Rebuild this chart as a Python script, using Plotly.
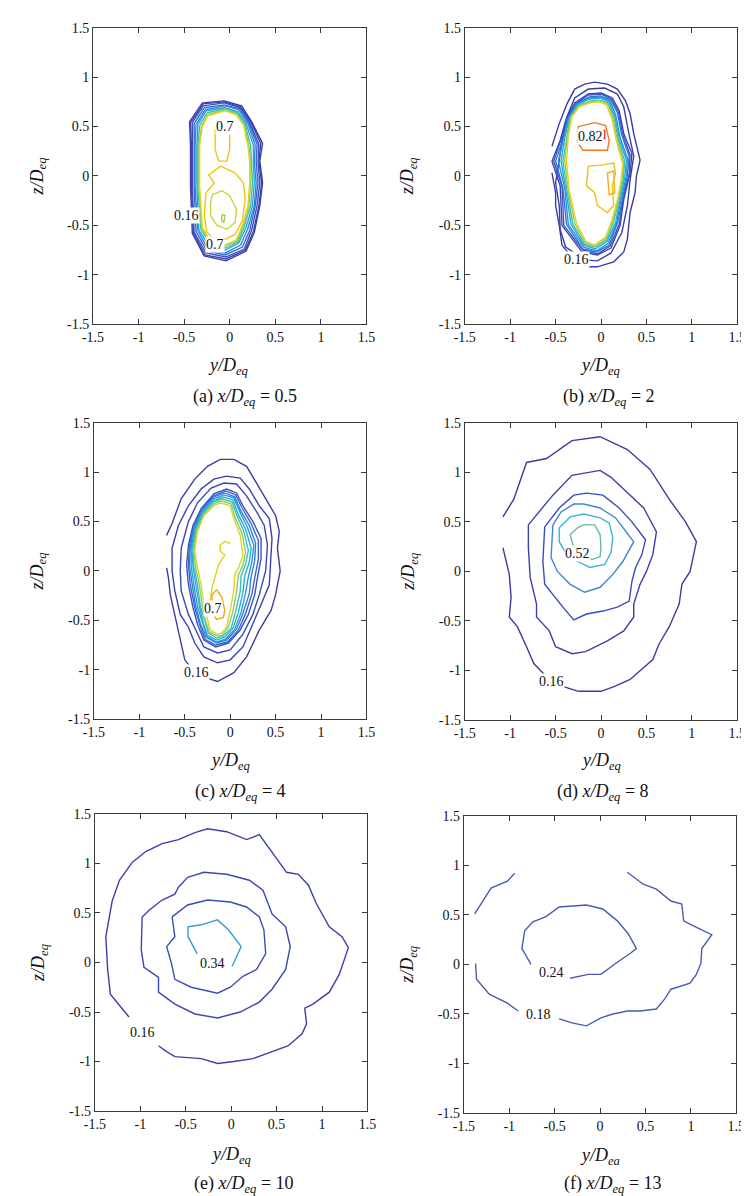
import plotly.graph_objects as go

# ---------------- data (y/Deq, z/Deq) ----------------
TICK_VALS = [-1.5, -1, -0.5, 0, 0.5, 1, 1.5]
TICK_TEXT = ["-1.5", "-1", "-0.5", "0", "0.5", "1", "1.5"]

# Panel (a) x/Deq = 0.5
A_LEVELS = [0.16, 0.22, 0.28, 0.34, 0.40, 0.46, 0.52, 0.58, 0.64, 0.70, 0.70, 0.64, 0.76]
A01 = [[-0.30,0.74],[-0.06,0.76],[0.13,0.71],[0.24,0.55],[0.36,0.33],[0.33,0.15],[0.36,-0.07],[0.33,-0.30],[0.27,-0.57],[0.18,-0.76],[-0.04,-0.86],[-0.28,-0.81],[-0.41,-0.58],[-0.43,-0.10],[-0.43,0.30],[-0.44,0.55],[-0.30,0.74]]
A02 = [[-0.29,0.73],[-0.06,0.75],[0.12,0.70],[0.23,0.55],[0.34,0.33],[0.32,0.15],[0.35,-0.07],[0.32,-0.30],[0.26,-0.56],[0.17,-0.75],[-0.04,-0.84],[-0.27,-0.80],[-0.40,-0.57],[-0.42,-0.10],[-0.42,0.30],[-0.43,0.54],[-0.29,0.73]]
A03 = [[-0.29,0.71],[-0.06,0.74],[0.12,0.69],[0.22,0.54],[0.32,0.32],[0.31,0.15],[0.33,-0.07],[0.30,-0.30],[0.24,-0.55],[0.16,-0.74],[-0.04,-0.82],[-0.26,-0.78],[-0.39,-0.57],[-0.41,-0.10],[-0.41,0.30],[-0.41,0.54],[-0.29,0.71]]
A04 = [[-0.28,0.69],[-0.06,0.72],[0.11,0.68],[0.21,0.54],[0.30,0.32],[0.29,0.15],[0.31,-0.07],[0.28,-0.30],[0.22,-0.55],[0.14,-0.72],[-0.05,-0.80],[-0.25,-0.76],[-0.37,-0.56],[-0.39,-0.10],[-0.39,0.30],[-0.39,0.53],[-0.28,0.69]]
A05 = [[-0.27,0.67],[-0.05,0.71],[0.10,0.67],[0.20,0.53],[0.28,0.31],[0.27,0.15],[0.29,-0.07],[0.27,-0.30],[0.20,-0.53],[0.12,-0.70],[-0.05,-0.78],[-0.24,-0.74],[-0.35,-0.55],[-0.38,-0.10],[-0.38,0.30],[-0.37,0.52],[-0.27,0.67]]
A06 = [[-0.26,0.66],[-0.05,0.69],[0.09,0.65],[0.18,0.53],[0.26,0.31],[0.26,0.14],[0.27,-0.07],[0.25,-0.30],[0.18,-0.52],[0.10,-0.68],[-0.05,-0.75],[-0.22,-0.72],[-0.34,-0.54],[-0.36,-0.10],[-0.36,0.30],[-0.35,0.52],[-0.26,0.66]]
A07 = [[-0.25,0.64],[-0.05,0.68],[0.08,0.64],[0.17,0.52],[0.23,0.30],[0.24,0.14],[0.25,-0.07],[0.23,-0.30],[0.16,-0.51],[0.09,-0.67],[-0.05,-0.73],[-0.21,-0.70],[-0.32,-0.53],[-0.35,-0.10],[-0.35,0.30],[-0.33,0.51],[-0.25,0.64]]
A08 = [[-0.245,0.62],[-0.05,0.67],[0.075,0.63],[0.16,0.52],[0.21,0.30],[0.23,0.14],[0.23,-0.07],[0.21,-0.30],[0.15,-0.50],[0.08,-0.66],[-0.055,-0.71],[-0.205,-0.69],[-0.31,-0.52],[-0.34,-0.10],[-0.34,0.30],[-0.31,0.50],[-0.245,0.62]]
A09 = [[-0.24,0.61],[-0.05,0.66],[0.07,0.62],[0.15,0.52],[0.20,0.30],[0.22,0.14],[0.22,-0.07],[0.20,-0.30],[0.14,-0.50],[0.07,-0.65],[-0.06,-0.70],[-0.20,-0.68],[-0.30,-0.52],[-0.33,-0.10],[-0.33,0.30],[-0.30,0.50],[-0.24,0.61]]
A10 = [[-0.16,0.47],[-0.16,0.27],[-0.12,0.15],[-0.03,0.15],[0.00,0.28],[0.00,0.44]]
A11 = [[-0.10,0.10],[-0.23,0.01],[-0.17,-0.07],[-0.26,-0.17],[-0.28,-0.40],[-0.25,-0.57],[-0.17,-0.64],[-0.04,-0.64],[0.06,-0.59],[0.14,-0.45],[0.17,-0.24],[0.15,-0.07],[0.06,0.03],[-0.10,0.10]]
A12 = [[-0.19,-0.19],[-0.085,-0.15],[0.0,-0.20],[0.075,-0.34],[0.06,-0.47],[-0.03,-0.54],[-0.14,-0.50],[-0.21,-0.40],[-0.21,-0.27],[-0.19,-0.19]]
A13 = [[-0.085,-0.39],[-0.05,-0.40],[-0.065,-0.47],[-0.09,-0.45],[-0.085,-0.39]]
A_CONTOURS = [A01, A02, A03, A04, A05, A06, A07, A08, A09, A10, A11, A12, A13]
A_LABEL_TEXT = ["0.7", "0.16", "0.7"]
A_LABEL_POS = [[-0.05, 0.50], [-0.47, -0.40], [-0.16, -0.69]]

# Panel (b) x/Deq = 2
B_LEVELS = [0.16, 0.22, 0.28, 0.34, 0.40, 0.46, 0.52, 0.58, 0.64, 0.70, 0.76, 0.82, 0.70, 0.70]
B01 = [[-0.54,0.30],[-0.46,0.53],[-0.375,0.73],[-0.29,0.88],[-0.18,0.93],[-0.07,0.95],[0.07,0.93],[0.18,0.88],[0.27,0.76],[0.32,0.63],[0.36,0.43],[0.43,0.16],[0.39,0.0],[0.375,-0.17],[0.32,-0.37],[0.29,-0.64],[0.25,-0.77],[0.14,-0.87],[-0.04,-0.92],[-0.125,-0.92],[-0.27,-0.88],[-0.43,-0.70],[-0.46,-0.50],[-0.50,-0.30],[-0.50,-0.17],[-0.54,0.03]]
B02 = [[-0.46,0.16],[-0.43,0.36],[-0.375,0.60],[-0.29,0.79],[-0.14,0.88],[0.04,0.89],[0.18,0.83],[0.25,0.70],[0.30,0.46],[0.36,0.20],[0.32,-0.04],[0.29,-0.30],[0.23,-0.57],[0.11,-0.78],[-0.04,-0.86],[-0.18,-0.85],[-0.39,-0.72],[-0.45,-0.54],[-0.46,-0.30],[-0.50,-0.07],[-0.46,0.16]]
B03 = [[-0.39,0.56],[-0.29,0.74],[-0.14,0.83],[0.00,0.84],[0.125,0.79],[0.20,0.66],[0.25,0.43],[0.34,0.23],[0.32,0.03],[0.25,-0.24],[0.21,-0.50],[0.11,-0.73],[-0.04,-0.80],[-0.21,-0.77],[-0.43,-0.50],[-0.45,-0.10],[-0.54,0.15],[-0.45,0.36],[-0.39,0.56]]
B04 = [[-0.38,0.57],[-0.28,0.73],[-0.14,0.82],[0.00,0.83],[0.115,0.78],[0.19,0.65],[0.24,0.42],[0.32,0.21],[0.31,0.02],[0.24,-0.24],[0.20,-0.49],[0.10,-0.71],[-0.04,-0.79],[-0.20,-0.75],[-0.41,-0.50],[-0.43,-0.11],[-0.52,0.15],[-0.44,0.37],[-0.38,0.57]]
B05 = [[-0.37,0.57],[-0.27,0.73],[-0.13,0.80],[-0.01,0.81],[0.105,0.77],[0.18,0.64],[0.23,0.41],[0.31,0.20],[0.29,0.01],[0.23,-0.24],[0.18,-0.48],[0.09,-0.70],[-0.05,-0.77],[-0.20,-0.74],[-0.38,-0.49],[-0.42,-0.12],[-0.50,0.15],[-0.42,0.37],[-0.37,0.57]]
B06 = [[-0.36,0.58],[-0.27,0.72],[-0.13,0.79],[-0.01,0.80],[0.095,0.76],[0.16,0.62],[0.21,0.39],[0.29,0.18],[0.28,0.0],[0.22,-0.24],[0.17,-0.48],[0.08,-0.68],[-0.05,-0.76],[-0.19,-0.72],[-0.36,-0.49],[-0.40,-0.12],[-0.47,0.15],[-0.41,0.38],[-0.36,0.58]]
B07 = [[-0.35,0.58],[-0.26,0.72],[-0.13,0.78],[-0.01,0.79],[0.085,0.75],[0.15,0.61],[0.20,0.38],[0.28,0.16],[0.26,-0.02],[0.21,-0.24],[0.16,-0.47],[0.07,-0.66],[-0.06,-0.74],[-0.19,-0.70],[-0.33,-0.49],[-0.39,-0.13],[-0.44,0.15],[-0.40,0.38],[-0.35,0.58]]
B08 = [[-0.34,0.59],[-0.25,0.71],[-0.12,0.76],[-0.02,0.77],[0.075,0.74],[0.14,0.60],[0.19,0.37],[0.26,0.15],[0.245,-0.03],[0.20,-0.24],[0.14,-0.46],[0.06,-0.65],[-0.06,-0.72],[-0.18,-0.69],[-0.31,-0.49],[-0.375,-0.14],[-0.42,0.15],[-0.38,0.39],[-0.34,0.59]]
B09 = [[-0.33,0.60],[-0.245,0.705],[-0.12,0.75],[-0.02,0.76],[0.07,0.73],[0.13,0.59],[0.18,0.36],[0.25,0.13],[0.23,-0.04],[0.19,-0.24],[0.13,-0.455],[0.055,-0.635],[-0.065,-0.71],[-0.175,-0.675],[-0.29,-0.48],[-0.36,-0.145],[-0.40,0.15],[-0.37,0.395],[-0.33,0.60]]
B10 = [[-0.32,0.60],[-0.24,0.70],[-0.12,0.74],[-0.02,0.75],[0.06,0.72],[0.12,0.58],[0.17,0.35],[0.24,0.12],[0.22,-0.05],[0.18,-0.24],[0.12,-0.45],[0.05,-0.62],[-0.07,-0.70],[-0.17,-0.66],[-0.27,-0.48],[-0.35,-0.15],[-0.38,0.15],[-0.36,0.40],[-0.32,0.60]]
B11 = [[-0.25,0.50],[-0.25,0.33],[-0.20,0.26],[0.07,0.26],[0.09,0.36],[0.05,0.51],[-0.07,0.54],[-0.21,0.51],[-0.25,0.50]]
B12 = [[-0.21,0.45],[-0.14,0.46],[0.04,0.46],[0.04,0.38],[-0.18,0.38],[-0.21,0.45]]
B13 = [[-0.14,0.10],[-0.16,-0.10],[-0.07,-0.17],[-0.04,-0.30],[0.07,-0.37],[0.14,-0.30],[0.125,-0.10],[0.16,0.03],[0.14,0.13],[0.0,0.11],[-0.14,0.10]]
B14 = [[0.07,0.03],[0.14,0.05],[0.15,-0.17],[0.09,-0.19],[0.07,0.03]]
B_CONTOURS = [B01, B02, B03, B04, B05, B06, B07, B08, B09, B10, B11, B12, B13, B14]
B_LABEL_TEXT = ["0.82", "0.16"]
B_LABEL_POS = [[-0.12, 0.40], [-0.27, -0.85]]

# Panel (c) x/Deq = 4
C_LEVELS = [0.16, 0.22, 0.28, 0.34, 0.40, 0.46, 0.52, 0.58, 0.64, 0.70, 0.76, 0.82, 0.82, 0.70]
C01 = [[-0.70,0.36],[-0.64,0.48],[-0.54,0.73],[-0.39,0.93],[-0.25,1.06],[-0.11,1.13],[0.04,1.13],[0.18,1.06],[0.29,0.89],[0.39,0.73],[0.50,0.56],[0.54,0.40],[0.52,0.23],[0.55,0.0],[0.50,-0.24],[0.45,-0.40],[0.32,-0.60],[0.18,-0.87],[0.04,-1.03],[-0.14,-1.12],[-0.25,-1.09],[-0.375,-1.05],[-0.50,-0.90],[-0.54,-0.73],[-0.57,-0.60],[-0.625,-0.40],[-0.66,-0.24],[-0.68,-0.07],[-0.70,0.03]]
C02 = [[-0.64,0.23],[-0.57,0.46],[-0.46,0.66],[-0.32,0.83],[-0.18,0.93],[-0.04,0.96],[0.11,0.94],[0.21,0.83],[0.32,0.66],[0.43,0.53],[0.46,0.33],[0.45,0.13],[0.43,-0.14],[0.34,-0.34],[0.25,-0.54],[0.14,-0.77],[0.0,-0.90],[-0.14,-0.93],[-0.29,-0.87],[-0.39,-0.73],[-0.46,-0.57],[-0.55,-0.44],[-0.61,-0.20],[-0.64,0.0],[-0.64,0.23]]
C03 = [[-0.54,0.23],[-0.46,0.50],[-0.36,0.69],[-0.21,0.84],[-0.07,0.89],[0.07,0.88],[0.18,0.76],[0.29,0.60],[0.375,0.46],[0.41,0.26],[0.39,0.0],[0.32,-0.24],[0.25,-0.44],[0.14,-0.64],[0.0,-0.80],[-0.14,-0.83],[-0.29,-0.77],[-0.375,-0.60],[-0.46,-0.44],[-0.54,-0.20],[-0.55,0.0],[-0.54,0.23]]
C04 = [[-0.46,0.26],[-0.41,0.46],[-0.32,0.63],[-0.18,0.78],[-0.04,0.83],[0.07,0.79],[0.14,0.66],[0.25,0.50],[0.34,0.33],[0.34,0.13],[0.30,-0.07],[0.27,-0.24],[0.20,-0.44],[0.11,-0.60],[-0.02,-0.73],[-0.16,-0.77],[-0.29,-0.70],[-0.36,-0.54],[-0.41,-0.37],[-0.46,-0.14],[-0.48,0.06],[-0.46,0.26]]
C05 = [[-0.45,0.25],[-0.40,0.45],[-0.32,0.62],[-0.18,0.76],[-0.05,0.81],[0.06,0.77],[0.13,0.64],[0.23,0.48],[0.31,0.31],[0.31,0.12],[0.27,-0.07],[0.24,-0.23],[0.17,-0.43],[0.09,-0.60],[-0.03,-0.72],[-0.16,-0.75],[-0.28,-0.69],[-0.34,-0.53],[-0.39,-0.37],[-0.44,-0.14],[-0.46,0.06],[-0.45,0.25]]
C06 = [[-0.44,0.24],[-0.40,0.44],[-0.31,0.61],[-0.18,0.75],[-0.06,0.79],[0.05,0.75],[0.11,0.62],[0.21,0.46],[0.28,0.28],[0.27,0.11],[0.23,-0.06],[0.21,-0.23],[0.14,-0.43],[0.07,-0.59],[-0.04,-0.70],[-0.15,-0.73],[-0.27,-0.67],[-0.33,-0.53],[-0.38,-0.36],[-0.42,-0.14],[-0.45,0.05],[-0.44,0.24]]
C07 = [[-0.43,0.23],[-0.39,0.43],[-0.31,0.60],[-0.18,0.73],[-0.07,0.77],[0.04,0.74],[0.10,0.61],[0.19,0.44],[0.26,0.26],[0.24,0.10],[0.20,-0.06],[0.17,-0.22],[0.12,-0.42],[0.05,-0.59],[-0.05,-0.69],[-0.15,-0.72],[-0.26,-0.66],[-0.31,-0.52],[-0.36,-0.36],[-0.40,-0.14],[-0.43,0.05],[-0.43,0.23]]
C08 = [[-0.42,0.23],[-0.38,0.43],[-0.30,0.59],[-0.18,0.71],[-0.08,0.75],[0.03,0.72],[0.08,0.59],[0.17,0.42],[0.23,0.23],[0.21,0.09],[0.16,-0.05],[0.14,-0.22],[0.09,-0.42],[0.03,-0.58],[-0.06,-0.67],[-0.15,-0.70],[-0.25,-0.65],[-0.30,-0.52],[-0.34,-0.35],[-0.38,-0.14],[-0.41,0.04],[-0.42,0.23]]
C09 = [[-0.41,0.22],[-0.37,0.42],[-0.30,0.58],[-0.18,0.70],[-0.09,0.73],[0.02,0.70],[0.07,0.57],[0.15,0.40],[0.20,0.21],[0.17,0.07],[0.12,-0.05],[0.11,-0.21],[0.06,-0.41],[0.01,-0.58],[-0.08,-0.66],[-0.15,-0.68],[-0.24,-0.63],[-0.28,-0.51],[-0.33,-0.35],[-0.36,-0.14],[-0.40,0.04],[-0.41,0.22]]
C10 = [[-0.40,0.21],[-0.37,0.41],[-0.29,0.57],[-0.18,0.68],[-0.10,0.71],[0.01,0.68],[0.05,0.55],[0.13,0.38],[0.17,0.19],[0.14,0.06],[0.09,-0.04],[0.07,-0.21],[0.03,-0.41],[-0.02,-0.57],[-0.09,-0.65],[-0.14,-0.66],[-0.23,-0.62],[-0.27,-0.51],[-0.31,-0.34],[-0.34,-0.14],[-0.38,0.03],[-0.40,0.21]]
C11 = [[-0.39,0.20],[-0.36,0.40],[-0.29,0.56],[-0.18,0.66],[-0.11,0.69],[0.0,0.66],[0.04,0.53],[0.11,0.36],[0.14,0.16],[0.10,0.05],[0.05,-0.04],[0.04,-0.20],[0.0,-0.40],[-0.04,-0.57],[-0.10,-0.63],[-0.14,-0.64],[-0.22,-0.60],[-0.25,-0.50],[-0.29,-0.34],[-0.32,-0.14],[-0.36,0.03],[-0.39,0.20]]
C12 = [[0.0,0.28],[-0.06,0.30],[-0.11,0.26],[-0.11,0.20],[-0.06,0.16],[-0.13,0.06],[-0.16,-0.04],[-0.20,-0.17],[-0.22,-0.30]]
C13 = [[-0.15,-0.19],[-0.09,-0.27],[-0.06,-0.40],[-0.075,-0.47],[-0.15,-0.49],[-0.20,-0.42],[-0.20,-0.24],[-0.15,-0.19]]
C_CONTOURS = [C01, C02, C03, C04, C05, C06, C07, C08, C09, C10, C11, C12, C13]
C_LABEL_TEXT = ["0.7", "0.16"]
C_LABEL_POS = [[-0.19, -0.38], [-0.375, -1.03]]

# Panel (d) x/Deq = 8
D_LEVELS = [0.16, 0.22, 0.34, 0.40, 0.46, 0.52]
D01 = [[-1.08,0.55],[-0.96,0.73],[-0.82,1.10],[-0.60,1.14],[-0.32,1.32],[-0.01,1.36],[0.29,1.23],[0.54,1.03],[0.75,0.73],[0.93,0.50],[1.05,0.30],[0.98,0.0],[0.89,-0.13],[0.86,-0.33],[0.75,-0.56],[0.64,-0.73],[0.57,-0.89],[0.32,-1.09],[0.15,-1.16],[0.0,-1.21],[-0.25,-1.21],[-0.42,-1.16],[-0.55,-1.11],[-0.74,-0.93],[-0.82,-0.76],[-0.92,-0.56],[-1.01,-0.46],[-0.99,-0.26],[-1.01,-0.03],[-1.05,0.14],[-1.08,0.24]]
D02 = [[-0.80,0.47],[-0.53,0.77],[-0.32,0.97],[-0.01,1.02],[0.11,0.95],[0.32,0.77],[0.47,0.64],[0.61,0.40],[0.57,0.17],[0.50,0.0],[0.43,-0.13],[0.36,-0.33],[0.36,-0.46],[0.25,-0.60],[0.07,-0.70],[-0.17,-0.81],[-0.32,-0.83],[-0.50,-0.76],[-0.57,-0.60],[-0.71,-0.46],[-0.71,-0.33],[-0.78,-0.06],[-0.80,0.24],[-0.80,0.47]]
D03 = [[-0.62,0.45],[-0.46,0.64],[-0.30,0.77],[-0.16,0.79],[0.02,0.77],[0.20,0.64],[0.34,0.50],[0.49,0.32],[0.45,0.17],[0.38,0.04],[0.34,-0.10],[0.31,-0.30],[0.18,-0.36],[0.02,-0.40],[-0.16,-0.43],[-0.30,-0.49],[-0.42,-0.36],[-0.53,-0.23],[-0.62,-0.13],[-0.64,0.10],[-0.62,0.45]]
D04 = [[-0.53,0.47],[-0.44,0.60],[-0.30,0.68],[-0.19,0.68],[-0.01,0.64],[0.16,0.54],[0.36,0.30],[0.24,0.10],[0.13,-0.03],[-0.01,-0.16],[-0.18,-0.21],[-0.34,-0.13],[-0.48,0.0],[-0.55,0.14],[-0.53,0.47]]
D05 = [[-0.46,0.44],[-0.34,0.55],[-0.19,0.58],[-0.01,0.54],[0.09,0.49],[0.13,0.34],[0.11,0.19],[0.04,0.07],[-0.12,0.04],[-0.26,0.10],[-0.39,0.19],[-0.46,0.30],[-0.46,0.44]]
D06 = [[-0.34,0.37],[-0.26,0.44],[-0.19,0.47],[-0.07,0.47],[-0.01,0.37],[0.0,0.24],[-0.01,0.15],[-0.10,0.12],[-0.21,0.17],[-0.30,0.24],[-0.34,0.37]]
D_CONTOURS = [D01, D02, D03, D04, D05, D06]
D_LABEL_TEXT = ["0.52", "0.16"]
D_LABEL_POS = [[-0.26, 0.18], [-0.55, -1.11]]

# Panel (e) x/Deq = 10
E_LEVELS = [0.16, 0.22, 0.28, 0.34]
E01 = [[-1.125,-0.55],[-1.33,-0.32],[-1.36,-0.07],[-1.38,0.26],[-1.31,0.62],[-1.23,0.83],[-1.09,1.01],[-0.94,1.12],[-0.76,1.20],[-0.58,1.24],[-0.40,1.31],[-0.26,1.35],[-0.05,1.32],[0.17,1.24],[0.31,1.29],[0.44,1.12],[0.61,0.91],[0.74,0.89],[0.85,0.78],[0.94,0.59],[1.08,0.36],[1.22,0.26],[1.29,0.15],[1.19,-0.12],[1.08,-0.30],[0.90,-0.42],[0.81,-0.46],[0.83,-0.62],[0.78,-0.72],[0.63,-0.84],[0.45,-0.90],[0.24,-0.97],[0.03,-1.0],[-0.15,-1.02],[-0.33,-0.97],[-0.62,-0.95],[-0.71,-0.90],[-0.80,-0.84]]
E02 = [[-0.98,0.46],[-0.99,0.13],[-0.96,-0.05],[-0.80,-0.15],[-0.80,-0.30],[-0.62,-0.42],[-0.40,-0.52],[-0.15,-0.56],[0.10,-0.50],[0.31,-0.40],[0.45,-0.27],[0.60,-0.07],[0.65,0.16],[0.60,0.36],[0.45,0.49],[0.35,0.73],[0.20,0.83],[-0.05,0.89],[-0.30,0.91],[-0.48,0.86],[-0.58,0.76],[-0.62,0.69],[-0.76,0.63],[-0.90,0.53],[-0.98,0.46]]
E03 = [[-0.65,0.46],[-0.62,0.26],[-0.71,0.16],[-0.66,0.0],[-0.62,-0.17],[-0.44,-0.25],[-0.15,-0.31],[-0.01,-0.25],[0.13,-0.14],[0.28,-0.07],[0.38,0.09],[0.36,0.33],[0.31,0.46],[0.17,0.56],[-0.01,0.61],[-0.26,0.63],[-0.48,0.58],[-0.65,0.46]]
E04 = [[-0.375,0.09],[-0.475,0.26],[-0.475,0.36],[-0.33,0.38],[-0.15,0.43],[-0.03,0.33],[0.11,0.16],[0.01,-0.04]]
E_CONTOURS = [E01, E02, E03, E04]
E_LABEL_TEXT = ["0.34", "0.16"]
E_LABEL_POS = [[-0.21, -0.01], [-0.98, -0.71]]

# Panel (f) x/Deq = 13
F_LEVELS = [0.18, 0.18, 0.18, 0.24]
F01 = [[-1.38,0.51],[-1.20,0.77],[-1.02,0.84],[-0.94,0.92]]
F02 = [[0.30,0.93],[0.475,0.81],[0.62,0.76],[0.78,0.64],[0.90,0.61],[0.92,0.44],[1.05,0.38],[1.23,0.30],[1.12,0.16],[1.11,0.01],[1.06,-0.10],[0.99,-0.19],[0.78,-0.25],[0.71,-0.35],[0.62,-0.45],[0.44,-0.47],[0.30,-0.47],[0.14,-0.50],[0.01,-0.54],[-0.15,-0.62],[-0.31,-0.59],[-0.45,-0.55]]
F03 = [[-0.90,-0.47],[-1.02,-0.39],[-1.22,-0.30],[-1.36,-0.15],[-1.37,0.01]]
F04 = [[-0.76,0.0],[-0.86,0.16],[-0.83,0.34],[-0.74,0.43],[-0.60,0.48],[-0.45,0.58],[-0.15,0.60],[0.03,0.56],[0.19,0.44],[0.31,0.31],[0.40,0.16],[0.33,0.11],[0.17,0.01],[0.01,-0.10],[-0.13,-0.10],[-0.33,-0.14]]
F_CONTOURS = [F01, F02, F03, F04]
F_LABEL_TEXT = ["0.24", "0.18"]
F_LABEL_POS = [[-0.54, -0.08], [-0.675, -0.51]]

# ---------------- styles ----------------
A_COLORS = ["#3b3ba6", "#3c42b0", "#3c4fbe", "#3866d0", "#2f86da", "#25a8d8", "#3cc0b4", "#98cc5c", "#e0d424",
            "#f2c40e", "#f2c40e", "#c8d43a", "#a8cc50"]
B_COLORS = ["#3b3ba6", "#3b3ea8", "#3c45b2", "#3a55c2", "#3670d4", "#2c90dc", "#22aed6", "#3cc2b0", "#9ccc58",
            "#e8d020", "#f07828", "#e43028", "#f0c014", "#f0b020"]
C_COLORS = ["#3b3ba6", "#3b40ac", "#3c48b4", "#3c52c0", "#3a64ce", "#347ed8", "#2a98dc", "#22b0d4", "#3cc0b8",
            "#8ccc68", "#dcd428", "#e8d018", "#f0a818"]
D_COLORS = ["#3b3ba6", "#3b40ac", "#3a4cb8", "#3a86d8", "#38b4dc", "#62bc96"]
E_COLORS = ["#3b40a8", "#3b46b0", "#3c4cb8", "#3d9ad8"]
F_COLORS = ["#4a5ab6", "#4a5ab6", "#4a5ab6", "#4a5ab6"]

FONT = "Times New Roman, Liberation Serif, serif"
W, H = 749, 1196

# plot-area boxes in pixels: left, right, top, bottom
BOXES = [(76, 357, 13, 313), (458, 738, 13, 313),
         (77, 357, 413, 713), (458, 738, 413, 714),
         (78, 358, 809, 1110), (457, 737, 811, 1112)]
XLAB_POS = [(215, 356), (597, 356), (217, 756), (598, 756), (218, 1155), (597, 1156)]
CAP_POS = [(232, 387), (606, 387), (228, 787), (600, 787), (231, 1184), (610, 1184)]
YLAB_X = [20, 401, 20, 401, 21, 400]
CAPTIONS = ["(a) <i>x/D</i><sub><i>eq</i></sub> = 0.5", "(b) <i>x/D</i><sub><i>eq</i></sub> = 2",
            "(c) <i>x/D</i><sub><i>eq</i></sub> = 4", "(d) <i>x/D</i><sub><i>eq</i></sub> = 8",
            "(e) <i>x/D</i><sub><i>eq</i></sub> = 10", "(f) <i>x/D</i><sub><i>eq</i></sub> = 13"]
XLABELS = ["<i>y/D</i><sub><i>eq</i></sub>"] * 5 + ["<i>y/D</i><sub><i>ea</i></sub>"]

PANELS = [
    (A_CONTOURS, A_LEVELS, A_COLORS, A_LABEL_TEXT, A_LABEL_POS),
    (B_CONTOURS, B_LEVELS, B_COLORS, B_LABEL_TEXT, B_LABEL_POS),
    (C_CONTOURS, C_LEVELS, C_COLORS, C_LABEL_TEXT, C_LABEL_POS),
    (D_CONTOURS, D_LEVELS, D_COLORS, D_LABEL_TEXT, D_LABEL_POS),
    (E_CONTOURS, E_LEVELS, E_COLORS, E_LABEL_TEXT, E_LABEL_POS),
    (F_CONTOURS, F_LEVELS, F_COLORS, F_LABEL_TEXT, F_LABEL_POS),
]

fig = go.Figure()
layout = dict(width=W, height=H, margin=dict(l=0, r=0, t=0, b=0),
              paper_bgcolor="white", plot_bgcolor="white", showlegend=False,
              font=dict(family=FONT, size=14, color="#111"))
annotations = []

axis_common = dict(range=[-1.5, 1.5], tickvals=TICK_VALS, ticktext=TICK_TEXT,
                   showgrid=False, zeroline=False, showline=True, linecolor="#3a3a3a",
                   linewidth=1, mirror="ticks", ticks="inside", ticklen=5, tickcolor="#3a3a3a",
                   tickfont=dict(family=FONT, size=14, color="#111"), fixedrange=True)

for i, (contours, levels, colors, ltext, lpos) in enumerate(PANELS):
    n = i + 1
    xa = "x" if n == 1 else f"x{n}"
    ya = "y" if n == 1 else f"y{n}"
    L, R, T, B = BOXES[i]
    layout["xaxis" if n == 1 else f"xaxis{n}"] = dict(
        axis_common, domain=[L / W, R / W], anchor=ya)
    layout["yaxis" if n == 1 else f"yaxis{n}"] = dict(
        axis_common, domain=[1 - B / H, 1 - T / H], anchor=xa)
    for pts, lev, col in zip(contours, levels, colors):
        fig.add_trace(go.Scatter(
            x=[p[0] for p in pts], y=[p[1] for p in pts], mode="lines",
            line=dict(color=col, width=1.4), xaxis=xa, yaxis=ya,
            name=f"{lev:.2f}", hoverinfo="skip"))
    for t, p in zip(ltext, lpos):
        annotations.append(dict(x=p[0], y=p[1], xref=xa, yref=ya, text=t, showarrow=False,
                                font=dict(family=FONT, size=14, color="#111"),
                                bgcolor="white", borderpad=0))
    # axis titles and caption
    xl, yl = XLAB_POS[i]
    annotations.append(dict(x=xl / W, y=1 - yl / H, xref="paper", yref="paper", text=XLABELS[i],
                            showarrow=False, font=dict(family=FONT, size=18, color="#111"),
                            xanchor="center", yanchor="middle"))
    cx, cy = CAP_POS[i]
    annotations.append(dict(x=cx / W, y=1 - cy / H, xref="paper", yref="paper", text=CAPTIONS[i],
                            showarrow=False, font=dict(family=FONT, size=18, color="#111"),
                            xanchor="center", yanchor="middle"))
    annotations.append(dict(x=YLAB_X[i] / W, y=1 - ((T + B) / 2) / H, xref="paper", yref="paper",
                            text="<i>z/D</i><sub><i>eq</i></sub>", textangle=-90, showarrow=False,
                            font=dict(family=FONT, size=18, color="#111"),
                            xanchor="center", yanchor="middle"))

layout["annotations"] = annotations
fig.update_layout(**layout)
fig.write_html("out.html")
